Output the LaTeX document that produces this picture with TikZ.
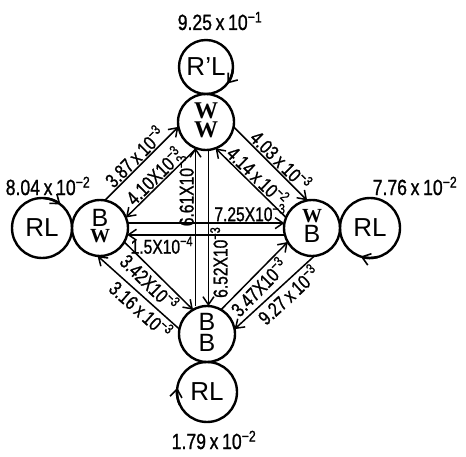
\documentclass[tikz,border=0pt]{standalone}
\usepackage{fontspec}
\setmainfont{Liberation Sans}
\newfontfamily\hand[FakeStretch=0.78,FakeBold=1]{Liberation Sans}
\newfontfamily\handbig[FakeStretch=0.8,FakeBold=1]{Liberation Sans}
\newfontfamily\serW{Liberation Serif}
\usetikzlibrary{arrows.meta}
\newcommand\pw[1]{\textsuperscript{#1}}
\begin{document}
\begin{tikzpicture}[x=1pt,y=1pt,
  state/.style={circle,draw,line width=2.4pt,minimum size=56pt,inner sep=0pt,outer sep=0pt},
  rl/.style={circle,draw,line width=2.4pt,minimum size=60pt,inner sep=0pt,outer sep=0pt,font=\fontsize{26}{26}\selectfont},
  edge/.style={line width=1.5pt,-{Straight Barb[length=8pt,width=11pt,line width=1.5pt]}},
  loopar/.style={line width=2.4pt,-{Straight Barb[length=8pt,width=12pt,line width=1.6pt]}},
  lab/.style={font=\hand\fontsize{20}{20}\selectfont,inner sep=1pt},
  biglab/.style={font=\handbig\fontsize{22}{22}\selectfont,inner sep=0pt},
]
\useasboundingbox (0,0) rectangle (466,-457);
% state nodes
\node[state] (WW) at (206,-122) {\begin{tabular}{@{}c@{}}\serW\bfseries\fontsize{24}{17}\selectfont W\\[-1pt]\serW\bfseries\fontsize{24}{17}\selectfont W\end{tabular}};
\node[state] (BW) at (100,-228) {\begin{tabular}{@{}c@{}}\fontsize{25}{19}\selectfont B\\[-1pt]\serW\bfseries\fontsize{20}{15}\selectfont W\end{tabular}};
\node[state] (WB) at (312,-228) {\begin{tabular}{@{}c@{}}\serW\bfseries\fontsize{20}{15}\selectfont W\\[-1pt]\fontsize{25}{19}\selectfont B\end{tabular}};
\node[state] (BB) at (207,-334) {\begin{tabular}{@{}c@{}}\fontsize{25}{18}\selectfont B\\[0pt]\fontsize{25}{18}\selectfont B\end{tabular}};
% RL nodes
\node[rl,minimum size=54pt] (RLt) at (206,-67) {R'L};
\node[rl] (RLl) at (42,-228) {RL};
\node[rl] (RLr) at (370,-228) {RL};
\node[rl] (RLb) at (207,-392) {RL};
% loop arrows
\draw[loopar] (RLt.-5) arc[start angle=-5,end angle=-38,radius=27pt];
\draw[loopar] (RLl.85) arc[start angle=85,end angle=52,radius=30pt];
\draw[loopar] (RLr.285) arc[start angle=285,end angle=252,radius=30pt];
\draw[loopar] (RLb.205) arc[start angle=205,end angle=172,radius=30pt];
% loop labels
\node[biglab] (lt) at (220,-21) {9.25\,x\,10\pw{−1}};
\node[biglab] (ll) at (48,-186) {8.04\,x\,10\pw{−2}};
\node[biglab] (lr) at (415,-186) {7.76\,x\,10\pw{−2}};
\node[biglab] (lb) at (214,-440) {1.79\,x\,10\pw{−2}};
% BW -- WW
\draw[edge] (BW.80) -- node[lab,sloped,above,pos=0.5]{3.87\,x\,10\pw{−3}} (WW.190);
\draw[edge] (WW.250) -- node[lab,sloped,above,pos=0.5]{4.10X10\pw{−3}} (BW.22);
% WW -- WB
\draw[edge] (WW.350) -- node[lab,sloped,above,pos=0.55]{4.03\,x\,10\pw{−3}} (WB.100);
\draw[edge] (WB.158) -- node[lab,sloped,above,pos=0.5]{4.14\,x\,10\pw{−2}} (WW.290);
% WW -- BB vertical
\draw[edge] (BB.north -| WW.248) -- node[lab,rotate=90,anchor=south,pos=0.73]{6.61X10\pw{−3}} (WW.248);
\draw[edge] (WW.275) -- node[lab,rotate=90,anchor=north,pos=0.72]{6.52X10\pw{−3}} (BB.north -| WW.275);
% BW -- WB horizontal
\draw[edge] (BW.10) -- node[lab,above,pos=0.78]{7.25X10\pw{−3}} (WB.170);
\draw[edge] (WB.194) -- node[lab,below,pos=0.78]{1.5X10\pw{−4}} (BW.346);
% BW -- BB
\draw[edge] (BW.330) -- node[lab,sloped,below,pos=0.48]{3.42X10\pw{−3}} (BB.120);
\draw[edge] (BB.170) -- node[lab,sloped,below,pos=0.38]{3.16\,x\,10\pw{−3}} (BW.265);
% WB -- BB
\draw[edge] (BB.60) -- node[lab,sloped,below,pos=0.45]{3.47X10\pw{−3}} (WB.210);
\draw[edge] (WB.275) -- node[lab,sloped,below,pos=0.42]{9.27\,x\,10\pw{−3}} (BB.10);
\end{tikzpicture}
\end{document}
